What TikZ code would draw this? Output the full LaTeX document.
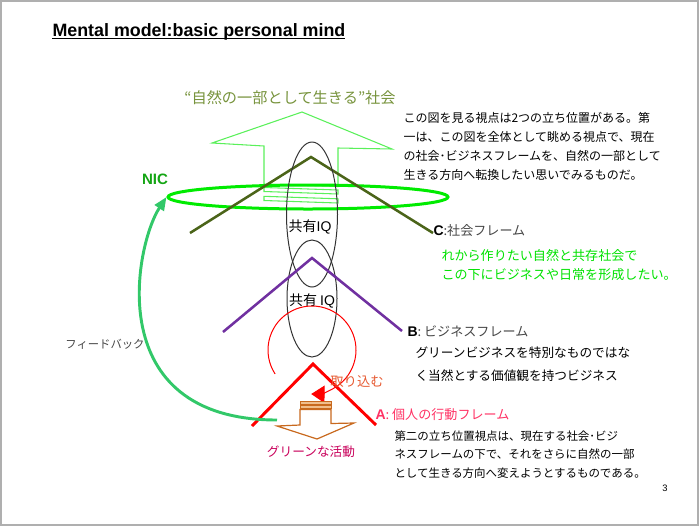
\documentclass[tikz,border=0pt]{standalone}
\usepackage{fontspec}
\setmainfont{Noto Sans CJK JP}
\newfontfamily\lsans{Liberation Sans}
\usetikzlibrary{arrows.meta,shapes.geometric}

\definecolor{framegray}{RGB}{175,175,175}
\definecolor{upgreen}{RGB}{90,240,90}
\definecolor{nicgreen}{RGB}{0,235,0}
\definecolor{nictext}{RGB}{20,165,20}
\definecolor{olivec}{RGB}{75,100,25}
\definecolor{purpleb}{RGB}{112,48,160}
\definecolor{reda}{RGB}{255,0,0}
\definecolor{orangearr}{RGB}{200,105,30}
\definecolor{orangefill}{RGB}{240,190,140}
\definecolor{fbgreen}{RGB}{50,200,105}
\definecolor{titlegreen}{RGB}{119,147,60}
\definecolor{pinka}{RGB}{255,50,100}
\definecolor{torired}{RGB}{230,90,50}
\definecolor{actred}{RGB}{200,0,90}
\definecolor{labelgray}{RGB}{70,70,70}
\definecolor{ctextgreen}{RGB}{0,225,0}

\newcommand{\fsz}[2]{\fontsize{#1}{#2}\selectfont}

\tikzset{every picture/.style={line width=0.75pt},
  pageframe/.style={draw=framegray, line width=1.5pt},
  uparrow/.style={draw=upgreen, line width=0.8pt, line join=miter},
  nicring/.style={ellipse, draw=nicgreen, line width=2.25pt, minimum width=210pt, minimum height=18pt, inner sep=0pt},
  framec/.style={draw=olivec, line width=1.9pt},
  frameb/.style={draw=purpleb, line width=1.9pt},
  framea/.style={draw=reda, line width=2.2pt},
  iqring/.style={draw=black!80, line width=0.75pt},
  torikomi/.style={draw=reda, line width=0.75pt, -{Triangle[length=10pt,width=13pt]}},
  downarrow/.style={draw=orangearr, line width=0.9pt, line join=miter},
  downstripe/.style={draw=orangearr, fill=orangefill, line width=0.6pt},
  fbarrow/.style={draw=fbgreen, line width=2.2pt, -{Triangle[length=10pt,width=8pt]}},
  jtext/.style={inner sep=0pt},
  jblock/.style={inner sep=0pt, anchor=north west, align=left}
}

\begin{document}
\begin{tikzpicture}[x=0.75pt,y=0.75pt,yscale=-1,xscale=1]
	\useasboundingbox (0,0) rectangle (700,526);

	%Shape: Rectangle (page frame)
	\draw [pageframe] (1,1) rectangle (698,524.5) ;

	% Text Node
	\draw (52,36) node [jtext, anchor=base west, font=\lsans\bfseries\fsz{13.4pt}{16pt}] (title) {Mental model:basic personal mind};
	%Straight Lines
	\draw [line width=1.3pt] (52,38.6) -- (345,38.6) ;

	% Text Node
	\draw (290,98) node [jtext, text=titlegreen, font=\fsz{11.4pt}{14pt}] (society) {“自然の一部として生きる”社会};

	%Shape: Up Arrow (striped)
	\draw [uparrow] (302,112) -- (392,149) -- (338,148) -- (338,186.5) -- (264,184) -- (264,146) -- (212,143) -- cycle ;
	\draw [uparrow] (264,187.5) -- (338,190) -- (338,194) -- (264,191.5) -- cycle ;
	\draw [uparrow] (264,196.3) -- (338,198.8) -- (338,203) -- (264,200.5) -- cycle ;

	%Shape: Ellipse (NIC ring)
	\node [nicring] (nic) at (308,197) {};
	% Text Node
	\draw (155,179) node [jtext, text=nictext, font=\lsans\bfseries\fsz{11.3pt}{13pt}] (nicname) {NIC};

	%Shape: Chevron C
	\draw [framec] (190,233) -- (311,157) -- (433,233) ;

	%Shape: Ellipse (upper IQ)
	\draw [iqring] (312,214.5) ellipse [x radius=25.5, y radius=72.5] ;
	%Shape: Ellipse (lower IQ)
	\draw [iqring] (312,298.5) ellipse [x radius=25, y radius=58.5] ;
	% Text Node
	\draw (310,227) node [jtext, font=\fsz{10.5pt}{12pt}] (iqup) {共有{\lsans IQ}};
	% Text Node
	\draw (312,301) node [jtext, font=\fsz{10.5pt}{12pt}] (iqlow) {共有 {\lsans IQ}};

	%Shape: Chevron B
	\draw [frameb] (223,332) -- (312,258) -- (402,331) ;

	%Shape: Arc arrow (torikomu)
	\coordinate (toricenter) at (312,350) ;
	\draw [torikomi] (toricenter) ++(147:44) arc [start angle=147, end angle=451, radius=44] ;

	%Shape: Down Arrow (striped)
	\draw [downstripe] (300,401.5) rectangle (331,404) ;
	\draw [downstripe] (300,405.3) rectangle (331,408) ;
	\draw [downarrow] (317,439) -- (354,423) -- (331,423.5) -- (331,409.5) -- (300,409.5) -- (300,425) -- (277,426) -- cycle ;

	%Shape: Chevron A
	\draw [framea] (252,426) -- (313,364) -- (376,425) ;

	%Shape: Feedback arrow
	\coordinate (fbstart) at (277,420) ;
	\draw [fbarrow] (fbstart) .. controls (100,420) and (135,245) .. (nic.west) ;

	% Text Node
	\draw (403,111.5) node [jblock, font=\fsz{9pt}{14.25pt}] (viewone) {この図を見る視点は2つの立ち位置がある。第\\一は、この図を全体として眺める視点で、現在\\の社会･ビジネスフレームを、自然の一部として\\生きる方向へ転換したい思いでみるものだ。};

	% Text Node
	\draw (433,231) node [jtext, anchor=west] (clabel) {{\lsans\bfseries\fsz{10.5pt}{12pt}C}{\color{labelgray}\fsz{9.8pt}{12pt}:社会フレーム}};
	% Text Node
	\draw (441,248.5) node [jblock, text=ctextgreen, font=\fsz{9.8pt}{14.25pt}] (ctext) {れから作りたい自然と共存社会で\\この下にビジネスや日常を形成したい。};

	% Text Node
	\draw (407,331) node [jtext, anchor=west] (blabel) {{\lsans\bfseries\fsz{10.5pt}{12pt}B}{\color{labelgray}\fsz{9.8pt}{12pt}: ビジネスフレーム}};
	% Text Node
	\draw (415,346.7) node [jblock, font=\fsz{9.5pt}{17.25pt}] (btext) {グリーンビジネスを特別なものではな\\く当然とする価値観を持つビジネス};

	% Text Node
	\draw (375,415) node [jtext, anchor=west, text=pinka] (alabel) {{\lsans\bfseries\fsz{10.5pt}{12pt}A}\fsz{9.8pt}{12pt}: 個人の行動フレーム};
	% Text Node
	\draw (394,430.2) node [jblock, font=\fsz{8.6pt}{13.9pt}] (atext) {第二の立ち位置視点は、現在する社会･ビジ\\ネスフレームの下で、それをさらに自然の一部\\として生きる方向へ変えようとするものである。};

	% Text Node
	\draw (357,382) node [jtext, text=torired, font=\fsz{10pt}{12pt}] (torikomu) {取り込む};
	% Text Node
	\draw (311,452) node [jtext, text=actred, font=\fsz{9.5pt}{12pt}] (green) {グリーンな活動};
	% Text Node
	\draw (105,344) node [jtext, text=labelgray, font=\fsz{8.5pt}{12pt}] (feedback) {フィードバック};
	% Text Node
	\draw (665,488) node [jtext, font=\lsans\fsz{7pt}{8pt}] (pageno) {3};

\end{tikzpicture}
\end{document}
